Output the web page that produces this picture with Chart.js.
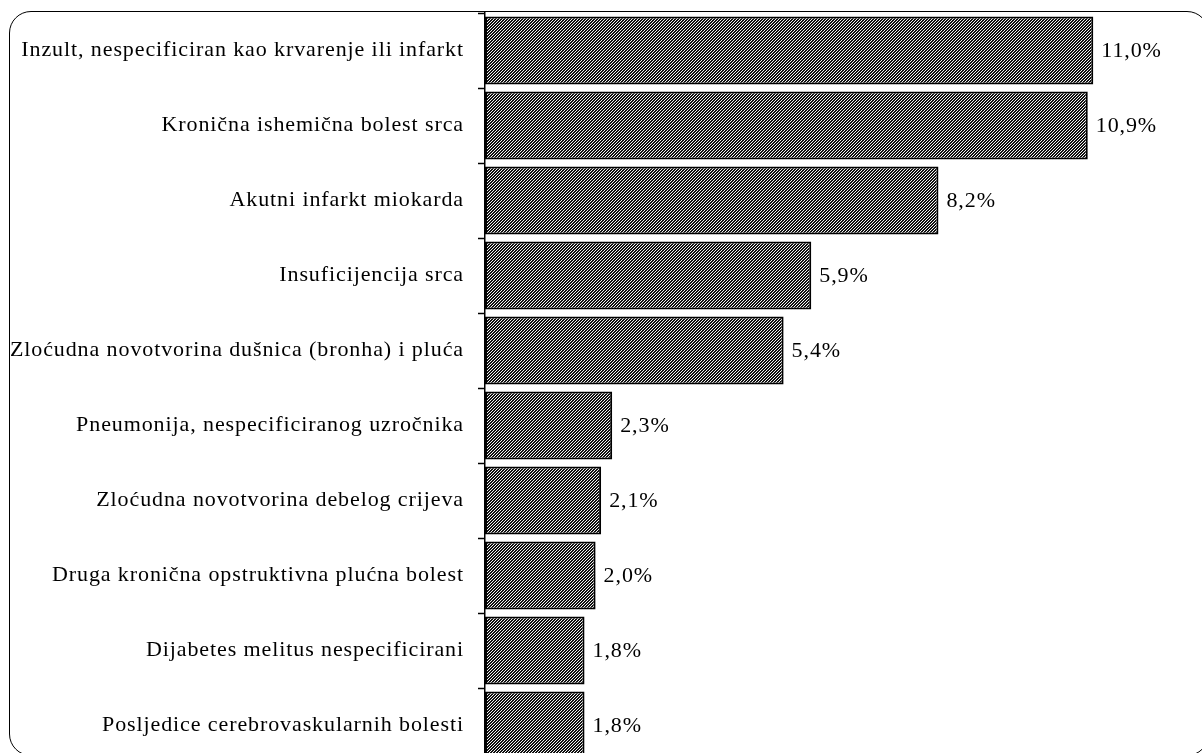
<!DOCTYPE html>
<html>
<head>
<meta charset="utf-8">
<script src="https://cdn.jsdelivr.net/npm/chart.js@4.4.1/dist/chart.umd.min.js"></script>
<style>
  html, body { margin: 0; padding: 0; background: #fff; overflow: hidden; width: 1202px; height: 753px; }
  #wrap { position: relative; width: 1202px; height: 780px; }
  #frame { position: absolute; left: 9px; top: 11px; width: 1200px; height: 745px; border: 1.5px solid #000; border-radius: 22px; box-sizing: border-box; pointer-events: none; }
  canvas { position: absolute; left: 0; top: 0; }
</style>
</head>
<body>
<div id="wrap">
  <canvas id="c" width="1202" height="780"></canvas>
  <div id="frame"></div>
</div>
<script>
const categories = [
  "Inzult, nespecificiran kao krvarenje ili infarkt",
  "Kronična ishemična bolest srca",
  "Akutni infarkt miokarda",
  "Insuficijencija srca",
  "Zloćudna novotvorina dušnica (bronha) i pluća",
  "Pneumonija, nespecificiranog uzročnika",
  "Zloćudna novotvorina debelog crijeva",
  "Druga kronična opstruktivna plućna bolest",
  "Dijabetes melitus nespecificirani",
  "Posljedice cerebrovaskularnih bolesti"
];
const values = [11.0, 10.9, 8.2, 5.9, 5.4, 2.3, 2.1, 2.0, 1.8, 1.8];

function makePattern() {
  const t = document.createElement('canvas');
  t.width = 3; t.height = 3;
  const g = t.getContext('2d');
  g.fillStyle = '#f4f4f4';
  g.fillRect(0, 0, 3, 3);
  g.fillStyle = '#111';
  for (let y = 0; y < 3; y++) {
    for (let x = 0; x < 3; x++) {
      const m = (x + y) % 3;
      if (m === 0 || m === 1) g.fillRect(x, y, 1, 1);
    }
  }
  return document.getElementById('c').getContext('2d').createPattern(t, 'repeat');
}

const FONT = "'Liberation Serif', 'Times New Roman', serif";
const SPACING = '0.9px';

const spacingPlugin = {
  id: 'spacing',
  beforeDraw(chart) { chart.ctx.letterSpacing = SPACING; },
  afterDraw(chart) { chart.ctx.letterSpacing = '0px'; }
};

const valueLabels = {
  id: 'valueLabels',
  afterDatasetsDraw(chart) {
    const ctx = chart.ctx;
    const meta = chart.getDatasetMeta(0);
    ctx.save();
    ctx.letterSpacing = SPACING;
    ctx.font = "22px " + FONT;
    ctx.fillStyle = '#000';
    ctx.textAlign = 'left';
    ctx.textBaseline = 'middle';
    meta.data.forEach((bar, i) => {
      const txt = values[i].toFixed(1).replace('.', ',') + '%';
      ctx.fillText(txt, bar.x + 8, bar.y + 1);
    });
    ctx.restore();
  }
};

new Chart(document.getElementById('c'), {
  type: 'bar',
  data: {
    labels: categories,
    datasets: [{
      data: values,
      backgroundColor: makePattern(),
      borderColor: '#000',
      borderWidth: 2,
      borderSkipped: false,
      barPercentage: 0.907,
      categoryPercentage: 1.0
    }]
  },
  options: {
    indexAxis: 'y',
    responsive: false,
    animation: false,
    events: [],
    layout: { padding: { left: 0, right: 53.4, top: 13, bottom: 17 } },
    plugins: { legend: { display: false }, tooltip: { enabled: false } },
    scales: {
      x: { display: false, min: 0, max: 12 },
      y: {
        afterFit(scale) { scale.width = 485; scale.paddingTop = 0; scale.paddingBottom = 0; },
        grid: {
          offset: true,
          drawOnChartArea: false,
          drawTicks: true,
          tickLength: 7,
          tickWidth: 1.5,
          tickColor: '#000'
        },
        border: { display: true, color: '#000', width: 1.5 },
        ticks: {
          color: '#000',
          padding: 14,
          font: { family: FONT, size: 22 },
          autoSkip: false
        }
      }
    }
  },
  plugins: [spacingPlugin, valueLabels]
});
</script>
</body>
</html>
